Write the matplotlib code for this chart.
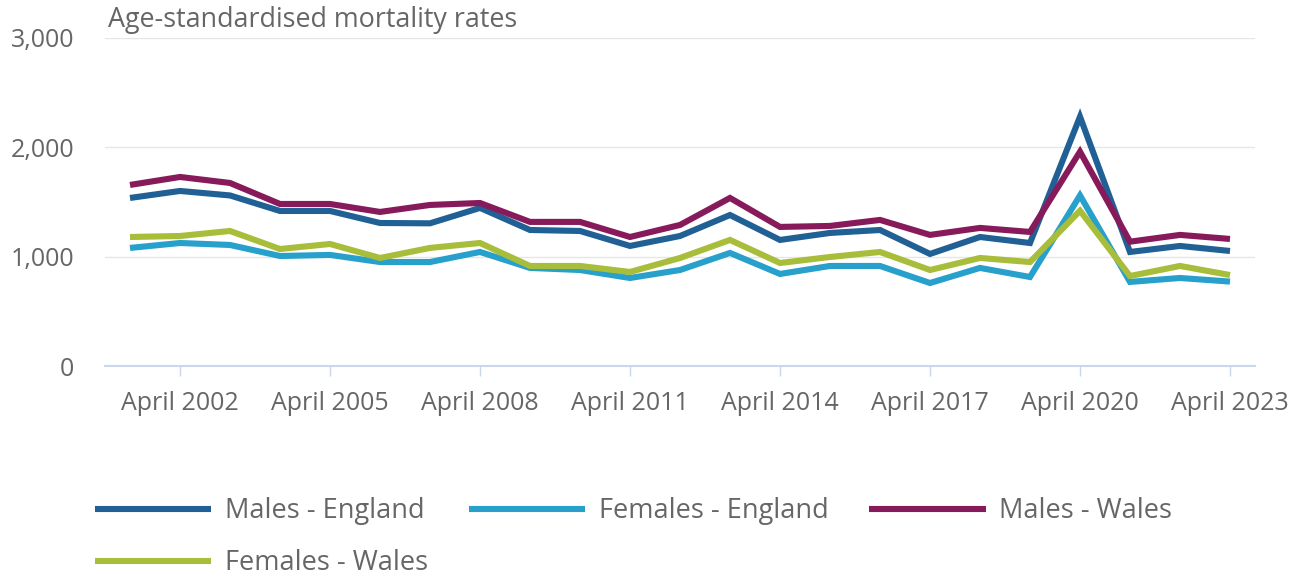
import matplotlib
matplotlib.use("Agg")
import matplotlib.pyplot as plt

plt.rcParams['font.family'] = ['Open Sans', 'DejaVu Sans']

# Age-standardised mortality rates, April 2001 - April 2023
years = list(range(2001, 2024))
males_england = [1537, 1601, 1560, 1418, 1418, 1308, 1305, 1446, 1244, 1235,
                 1098, 1189, 1381, 1153, 1217, 1244, 1025, 1180, 1125, 2280,
                 1043, 1098, 1052]
females_england = [1080, 1125, 1107, 1006, 1016, 951, 951, 1043, 897, 878,
                   805, 878, 1034, 842, 915, 915, 759, 897, 814, 1560,
                   769, 805, 772]
males_wales = [1656, 1729, 1674, 1482, 1482, 1409, 1473, 1491, 1318, 1318,
               1180, 1290, 1537, 1272, 1281, 1336, 1199, 1263, 1226, 1960,
               1137, 1199, 1162]
females_wales = [1180, 1189, 1235, 1070, 1116, 988, 1080, 1125, 915, 915,
                 860, 988, 1153, 942, 997, 1043, 878, 988, 951, 1420,
                 823, 915, 832]

series = [
    ("Males - England", males_england, "#206095"),
    ("Females - England", females_england, "#27a0cc"),
    ("Males - Wales", males_wales, "#871a5b"),
    ("Females - Wales", females_wales, "#a8bd3a"),
]

tick_years = list(range(2002, 2024, 3))
tick_labels = ["April %d" % y for y in tick_years]
y_ticks = [0, 1000, 2000, 3000]
y_labels = ["0", "1,000", "2,000", "3,000"]

text_col = "#666666"

fig = plt.figure(figsize=(13, 5.76), dpi=100)
ax = fig.add_axes([105 / 1300, 1 - 366 / 576, 1150 / 1300, 328 / 576])

lines = []
for name, vals, col in series:
    ln, = ax.plot(years, vals, color=col, lw=4.4, label=name,
                  solid_joinstyle='miter', solid_capstyle='butt')
    lines.append(ln)

ax.set_xlim(2000.5, 2023.5)
ax.set_ylim(0, 3000)
ax.set_yticks(y_ticks)
ax.set_yticklabels(y_labels)
ax.set_xticks(tick_years)
ax.set_xticklabels(tick_labels)

ax.grid(axis='y', color="#e6e6e6", lw=1)
ax.set_axisbelow(True)
for s in ['top', 'right', 'left']:
    ax.spines[s].set_visible(False)
ax.spines['bottom'].set_color("#ccd6eb")
ax.spines['bottom'].set_linewidth(1.5)

ax.tick_params(axis='y', length=0, pad=22, labelsize=18, labelcolor=text_col)
ax.tick_params(axis='x', length=7, width=1, color="#ccd6eb", pad=11,
               labelsize=18, labelcolor=text_col)

fig.text(108 / 1300, 1 - 6 / 576, "Age-standardised mortality rates",
         ha='left', va='top', fontsize=19.4, color=text_col)

# legend fills column-wise, so reorder to read row by row
order = [0, 3, 1, 2]
leg = fig.legend([lines[i] for i in order], [series[i][0] for i in order],
                 loc='upper left', bbox_to_anchor=(95 / 1300, 1 - 497 / 576),
                 ncol=3, frameon=False, fontsize=19.5, handlelength=4.3,
                 handletextpad=0.5, columnspacing=1.5, labelspacing=0.9,
                 borderpad=0, borderaxespad=0, labelcolor=text_col)
for h in leg.get_lines():
    h.set_linewidth(4.4)

fig.savefig("out.png", dpi=100)
